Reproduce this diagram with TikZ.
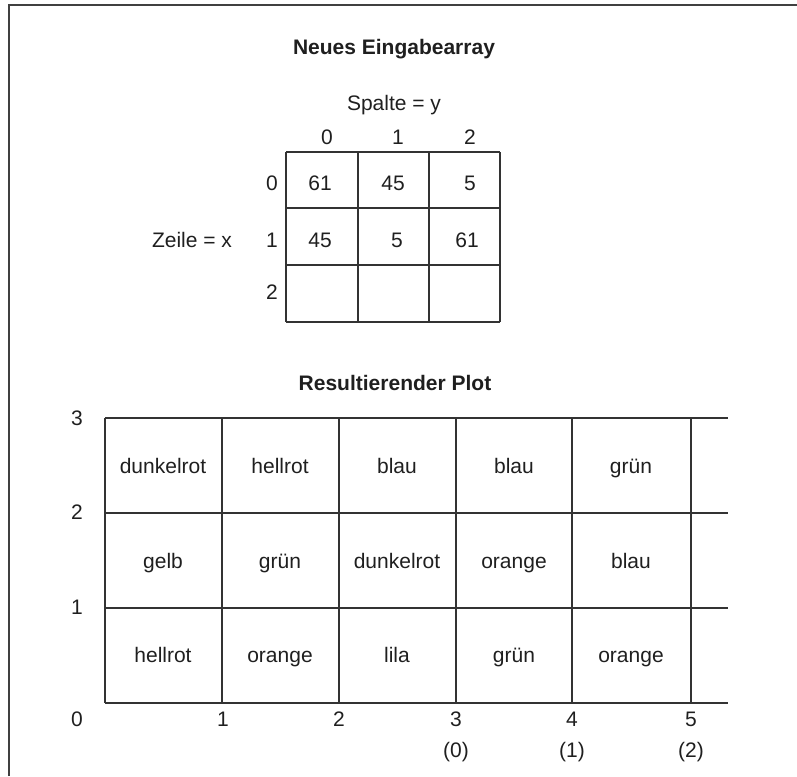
\documentclass[tikz,border=0pt]{standalone}
\usepackage{fontspec}
\setmainfont{Liberation Sans}
\begin{document}
\begin{tikzpicture}[x=1pt,y=-1pt,
  txt/.style={inner sep=0pt,anchor=center,text height=15pt,text depth=0pt,text=black!88,font=\fontsize{21}{25}\selectfont},
  ttl/.style={txt,font=\fontsize{21}{25}\selectfont\bfseries},
  gridline/.style={draw=black!80,line width=1.3pt},
  frameline/.style={draw=black!75,line width=2pt}]
\useasboundingbox (0,0) rectangle (797,776);
% frame (top and left only)
\draw[frameline] (9,776) -- (9,5) -- (797,5);
% titles
\node[ttl] (t1) at (394,47) {Neues Eingabearray};
\node[ttl] (t2) at (395,383) {Resultierender Plot};
% input array
\node[txt] (spalte) at (394,103) {Spalte = y};
\node[txt] (c0) at (327,137) {0};
\node[txt] (c1) at (398,137) {1};
\node[txt] (c2) at (470,137) {2};
\node[txt] (r0) at (272,183) {0};
\node[txt] (r1) at (272,240) {1};
\node[txt] (r2) at (272,292) {2};
\node[txt] (zeile) at (192,240) {Zeile = x};
\foreach \x in {286,358,429,500} \draw[gridline] (\x,152) -- (\x,322);
\foreach \y in {152,208,265,322} \draw[gridline] (286,\y) -- (500,\y);
\node[txt] (a00) at (320,183) {61};
\node[txt] (a01) at (393,183) {45};
\node[txt] (a02) at (470,183) {5};
\node[txt] (a10) at (320,240) {45};
\node[txt] (a11) at (397,240) {5};
\node[txt] (a12) at (467,240) {61};
% plot grid
\foreach \x in {105,222,339,456,572,691} \draw[gridline] (\x,418) -- (\x,703);
\foreach \y in {418,513,608,703} \draw[gridline] (105,\y) -- (728,\y);
% axis labels
\node[txt] (y3) at (77,418) {3};
\node[txt] (y2) at (77,512) {2};
\node[txt] (y1) at (77,607) {1};
\node[txt] (y0) at (77,719) {0};
\node[txt] (x1) at (223,719) {1};
\node[txt] (x2) at (339,719) {2};
\node[txt] (x3) at (456,719) {3};
\node[txt] (x4) at (572,719) {4};
\node[txt] (x5) at (691,719) {5};
\node[txt] (s0) at (456,750) {(0)};
\node[txt] (s1) at (572,750) {(1)};
\node[txt] (s2) at (691,750) {(2)};
% cell labels
\node[txt] (p11) at (163,466) {dunkelrot};
\node[txt] (p12) at (280,466) {hellrot};
\node[txt] (p13) at (397,466) {blau};
\node[txt] (p14) at (514,466) {blau};
\node[txt] (p15) at (631,466) {grün};
\node[txt] (p21) at (163,561) {gelb};
\node[txt] (p22) at (280,561) {grün};
\node[txt] (p23) at (397,561) {dunkelrot};
\node[txt] (p24) at (514,561) {orange};
\node[txt] (p25) at (631,561) {blau};
\node[txt] (p31) at (163,655) {hellrot};
\node[txt] (p32) at (280,655) {orange};
\node[txt] (p33) at (397,655) {lila};
\node[txt] (p34) at (514,655) {grün};
\node[txt] (p35) at (631,655) {orange};
\end{tikzpicture}
\end{document}
